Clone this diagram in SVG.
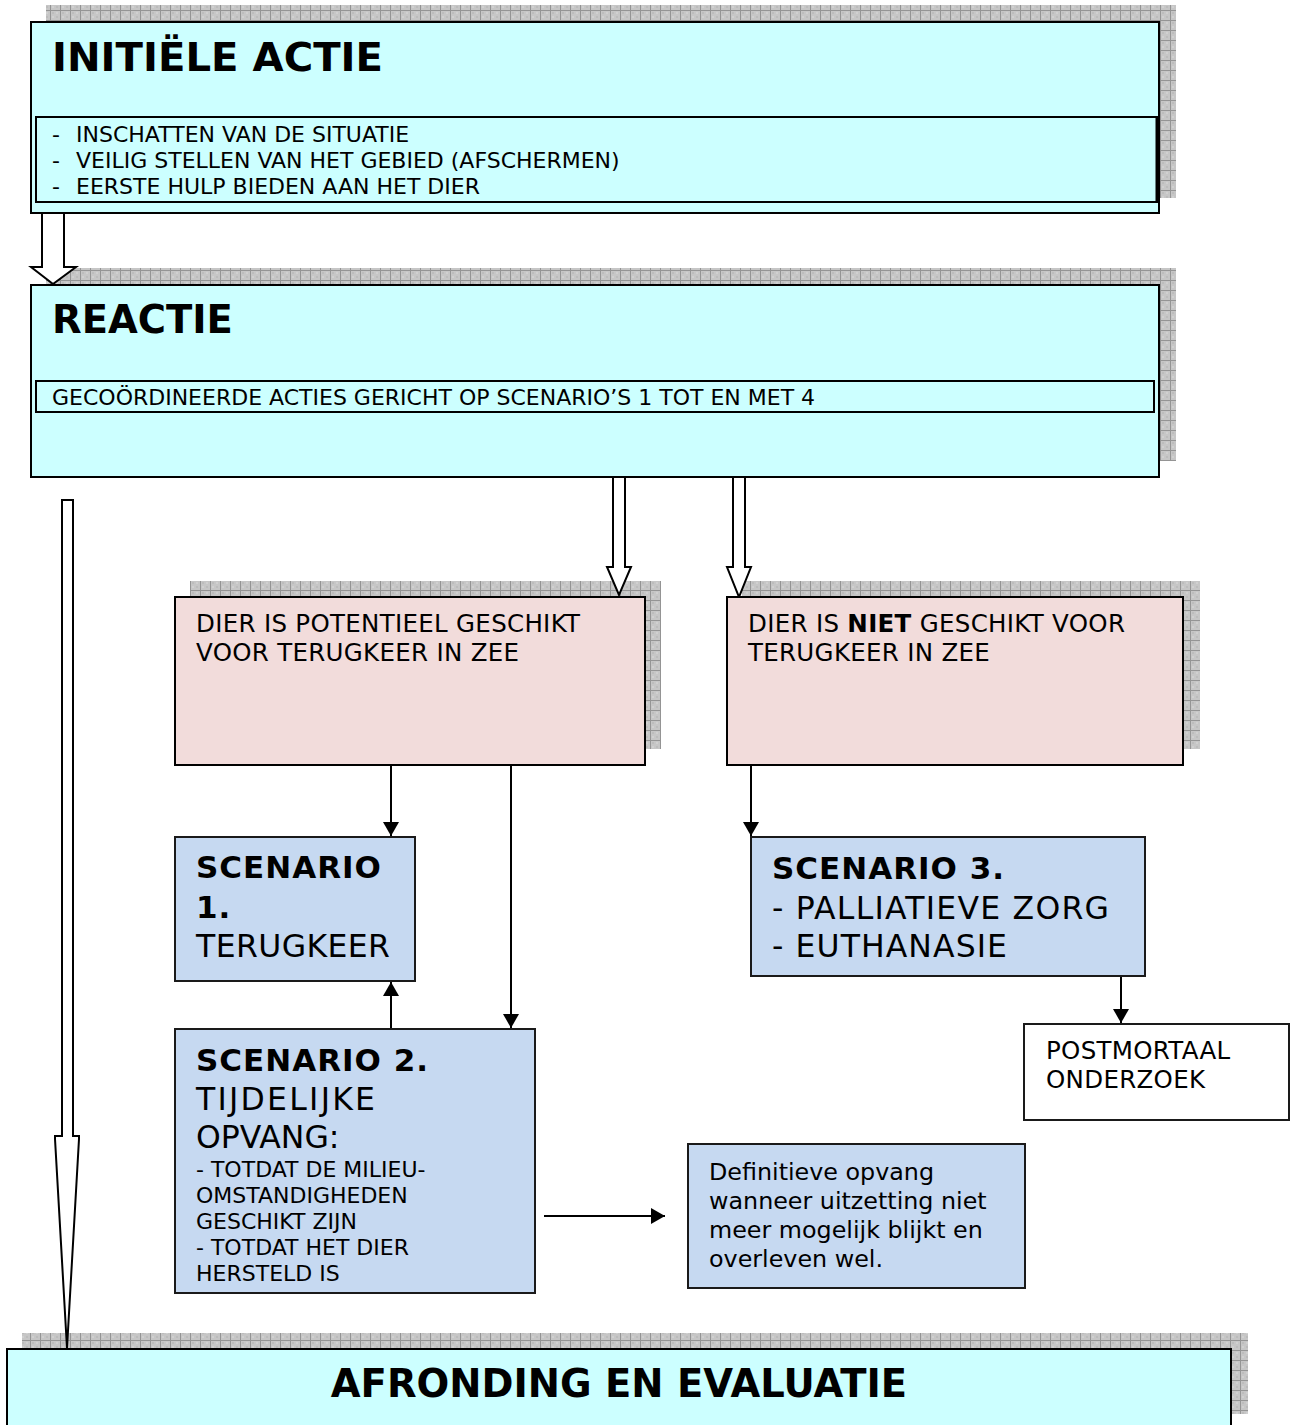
<svg xmlns="http://www.w3.org/2000/svg" width="1291" height="1425" viewBox="0 0 1291 1425">
<defs>
<pattern id="grid" patternUnits="userSpaceOnUse" x="0" y="0" width="10" height="10">
<rect width="10" height="10" fill="#c6c6c6"/>
<rect x="2" y="2" width="2" height="2" fill="#bcbcbc"/>
<rect x="6" y="6" width="2" height="2" fill="#bcbcbc"/>
<rect x="6" y="2" width="2" height="2" fill="#d0d0d0"/>
<rect x="2" y="6" width="2" height="2" fill="#d0d0d0"/>
<path d="M0,0.5 H10 M0.5,0 V10" stroke="#949494" stroke-width="1"/>
</pattern>
<marker id="ah" markerUnits="userSpaceOnUse" markerWidth="15" markerHeight="16" refX="14" refY="8" orient="auto">
<path d="M0,0 L14,8 L0,16 z" fill="#000"/>
</marker>
</defs>
<style>
text{font-family:"DejaVu Sans","Verdana","Liberation Sans",sans-serif;fill:#000}
.shadow{fill:url(#grid)}
.cyan{fill:#ccffff;stroke:#000;stroke-width:2}
.inner{fill:#ccffff;stroke:#000;stroke-width:2}
.pink{fill:#f2dcdb;stroke:#000;stroke-width:2}
.blue{fill:#c6d9f1;stroke:#1a1a1a;stroke-width:2}
.white{fill:#fff;stroke:#1a1a1a;stroke-width:2}
.block{fill:#fff;stroke:#000;stroke-width:2;stroke-linejoin:miter}
.conn{fill:none;stroke:#000;stroke-width:2;marker-end:url(#ah)}
.title{font-size:38.5px;font-weight:bold}
.list{font-size:22px}
.pt{font-size:24.5px;letter-spacing:0.3px}
.scb{font-size:31px;font-weight:bold;letter-spacing:1px}
.scr{font-size:31.5px}
.sm{font-size:22px}
.def{font-size:23.8px}
</style>

<g id="shadows">
<rect class="shadow" x="46" y="5" width="1130" height="193"/>
<rect class="shadow" x="46" y="268" width="1130" height="193"/>
<rect class="shadow" x="190" y="581" width="471" height="168"/>
<rect class="shadow" x="742" y="581" width="458" height="168"/>
<rect class="shadow" x="22" y="1333" width="1226" height="81"/>
</g>

<g id="connectors">
<polygon class="block" points="42,213 64,213 64,267 76,267 53,284 31,267 42,267"/>
<polygon class="block" points="62,500 73,500 73,1136 79,1136 79,1139 67,1348 55,1139 55,1136 62,1136"/>
<polygon class="block" points="613,477 625,477 625,567 631,567 619,595 607,567 613,567"/>
<polygon class="block" points="733,477 745,477 745,567 751,567 739,597 727,567 733,567"/>
<line class="conn" x1="391" y1="765" x2="391" y2="836"/>
<line class="conn" x1="511" y1="765" x2="511" y2="1028"/>
<line class="conn" x1="391" y1="1029" x2="391" y2="982"/>
<line class="conn" x1="751" y1="765" x2="751" y2="836"/>
<line class="conn" x1="1121" y1="976" x2="1121" y2="1023"/>
<line class="conn" x1="544" y1="1216" x2="665" y2="1216"/>
</g>

<g id="initiele-actie">
<rect class="cyan" x="31" y="22" width="1128" height="191"/>
<rect class="inner" x="36" y="117" width="1121" height="85"/>
<line x1="1157" y1="117" x2="1157" y2="203" stroke="#000" stroke-width="3"/>
<text class="title" x="52" y="71" textLength="331" lengthAdjust="spacingAndGlyphs">INITIËLE ACTIE</text>
<text class="list" x="52" y="142">-</text>
<text class="list" x="76" y="142">INSCHATTEN VAN DE SITUATIE</text>
<text class="list" x="52" y="168">-</text>
<text class="list" x="76" y="168">VEILIG STELLEN VAN HET GEBIED (AFSCHERMEN)</text>
<text class="list" x="52" y="194">-</text>
<text class="list" x="76" y="194">EERSTE HULP BIEDEN AAN HET DIER</text>
</g>

<g id="reactie">
<rect class="cyan" x="31" y="285" width="1128" height="192"/>
<rect class="inner" x="36" y="381" width="1118" height="31"/>
<text class="title" x="52" y="333">REACTIE</text>
<text class="list" x="52" y="405">GECOÖRDINEERDE ACTIES GERICHT OP SCENARIO’S 1 TOT EN MET 4</text>
</g>

<g id="geschikt">
<rect class="pink" x="175" y="597" width="470" height="168"/>
<text class="pt" x="196" y="632">DIER IS POTENTIEEL GESCHIKT</text>
<text class="pt" x="196" y="661">VOOR TERUGKEER IN ZEE</text>
</g>

<g id="niet-geschikt">
<rect class="pink" x="727" y="597" width="456" height="168"/>
<text class="pt" x="748" y="632">DIER IS <tspan font-weight="bold">NIET</tspan> GESCHIKT VOOR</text>
<text class="pt" x="748" y="661">TERUGKEER IN ZEE</text>
</g>

<g id="scenario1">
<rect class="blue" x="175" y="837" width="240" height="144"/>
<text class="scb" x="196" y="878">SCENARIO</text>
<text class="scb" x="196" y="918">1.</text>
<text class="scr" x="196" y="957" textLength="194" lengthAdjust="spacing">TERUGKEER</text>
</g>

<g id="scenario2">
<rect class="blue" x="175" y="1029" width="360" height="264"/>
<text class="scb" x="196" y="1071">SCENARIO 2.</text>
<text class="scr" x="196" y="1110" textLength="179" lengthAdjust="spacing">TIJDELIJKE</text>
<text class="scr" x="196" y="1148">OPVANG:</text>
<text class="sm" x="196" y="1177">- TOTDAT DE MILIEU-</text>
<text class="sm" x="196" y="1203">OMSTANDIGHEDEN</text>
<text class="sm" x="196" y="1229">GESCHIKT ZIJN</text>
<text class="sm" x="196" y="1255">- TOTDAT HET DIER</text>
<text class="sm" x="196" y="1281">HERSTELD IS</text>
</g>

<g id="scenario3">
<rect class="blue" x="751" y="837" width="394" height="139"/>
<text class="scb" x="772" y="879">SCENARIO 3.</text>
<text class="scr" x="772" y="919" textLength="337" lengthAdjust="spacing">- PALLIATIEVE ZORG</text>
<text class="scr" x="772" y="957" textLength="235" lengthAdjust="spacing">- EUTHANASIE</text>
</g>

<g id="postmortaal">
<rect class="white" x="1024" y="1024" width="265" height="96"/>
<text class="pt" x="1046" y="1059">POSTMORTAAL</text>
<text class="pt" x="1046" y="1088">ONDERZOEK</text>
</g>

<g id="definitieve-opvang">
<rect class="blue" x="688" y="1144" width="337" height="144"/>
<text class="def" x="709" y="1180">Definitieve opvang</text>
<text class="def" x="709" y="1209">wanneer uitzetting niet</text>
<text class="def" x="709" y="1238">meer mogelijk blijkt en</text>
<text class="def" x="709" y="1267">overleven wel.</text>
</g>

<g id="afronding">
<rect class="cyan" x="7" y="1349" width="1224" height="90"/>
<text class="title" x="619" y="1397" text-anchor="middle">AFRONDING EN EVALUATIE</text>
</g>
</svg>
